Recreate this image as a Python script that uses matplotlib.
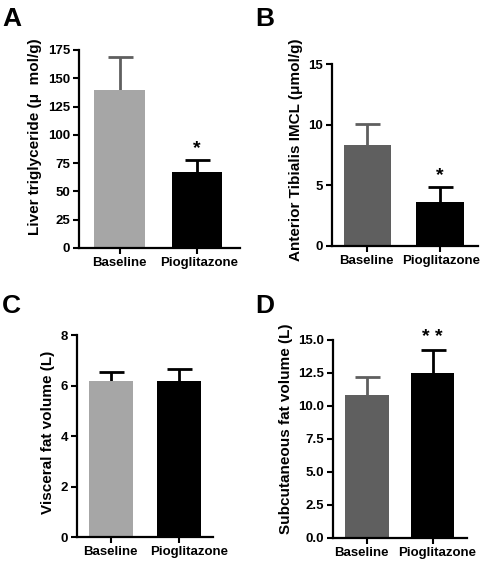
import matplotlib.pyplot as plt
import matplotlib.transforms as mtransforms
import numpy as np

plt.rcParams['font.family'] = ['Liberation Sans', 'DejaVu Sans']
plt.rcParams['font.weight'] = 'bold'

groups = ['Baseline', 'Pioglitazone']

liver_tg = [140, 67]
liver_tg_err = [29, 10.5]
ta_imcl = [8.35, 3.62]
ta_imcl_err = [1.7, 1.2]
visceral = [6.2, 6.2]
visceral_err = [0.35, 0.45]
subcut = [10.8, 12.5]
subcut_err = [1.35, 1.7]

W, H = 480, 564
fig = plt.figure(figsize=(W / 100, H / 100), dpi=100)


def px_axes(x0, x1, ytop, ybot):
    # axes from pixel coordinates (top-left origin)
    return fig.add_axes([x0 / W, 1 - ybot / H, (x1 - x0) / W, (ybot - ytop) / H])


def panel(ax, vals, errs, colors, ecolors, ylim, yticks, ylabel, xlim,
          ticklabels=None, label_shift=(0, 0), label_y=0.5):
    x = np.arange(len(vals))
    for xi, v, e, c, ec in zip(x, vals, errs, colors, ecolors):
        ax.bar(xi, v, width=0.66, color=c, zorder=2)
        # symmetric bar drawn under the column, so only the upper half shows
        ax.errorbar(xi, v, yerr=e, fmt='none', ecolor=ec,
                    elinewidth=2, capsize=9, capthick=2, zorder=1)
    ax.set_xlim(xlim)
    ax.set_ylim(ylim)
    ax.set_yticks(yticks)
    if ticklabels is not None:
        ax.set_yticklabels(ticklabels)
    ax.set_xticks(x)
    ax.set_xticklabels(groups)
    ax.set_ylabel(ylabel, fontsize=11, fontweight='bold', labelpad=4)
    ax.yaxis.label.set_y(label_y)
    for s in ['top', 'right']:
        ax.spines[s].set_visible(False)
    for s in ['left', 'bottom']:
        ax.spines[s].set_linewidth(1.6)
    ax.tick_params(width=1.5, length=4, labelsize=9.5, pad=2.5)
    for lab in ax.get_xticklabels() + ax.get_yticklabels():
        lab.set_fontweight('bold')
    for lab, dx in zip(ax.get_xticklabels(), label_shift):
        lab.set_transform(lab.get_transform() +
                          mtransforms.ScaledTranslation(dx / 100, 0, fig.dpi_scale_trans))


light, dark, black = '#a6a6a6', '#5f5f5f', '#000000'

# A
axA = px_axes(79, 240, 50, 248)
panel(axA, liver_tg, liver_tg_err, [light, black], [dark, black], (0, 175),
      np.arange(0, 176, 25), 'Liver triglyceride (\u03bc  mol/g)', (-0.53, 1.558),
      label_shift=(0, 2.5), label_y=0.56)
axA.text(1, liver_tg[1] + liver_tg_err[1] + 3, '*', ha='center', va='bottom', fontsize=14)

# B
axB = px_axes(332, 478, 64.3, 245.7)
panel(axB, ta_imcl, ta_imcl_err, [dark, black], [dark, black], (0, 15), [0, 5, 10, 15],
      'Anterior Tibialis IMCL (\u03bcmol/g)', (-0.49, 1.53), label_shift=(-1.5, 1.5),
      label_y=0.53)
axB.text(1, ta_imcl[1] + ta_imcl_err[1] + 0.3, '*', ha='center', va='bottom', fontsize=14)

# C
axC = px_axes(77, 213, 335.3, 537)
panel(axC, visceral, visceral_err, [light, black], [black, black], (0, 8), [0, 2, 4, 6, 8],
      'Visceral fat volume (L)', (-0.5, 1.5), label_shift=(-1, 10), label_y=0.52)

# D
axD = px_axes(333, 466.7, 339.7, 537.7)
dticks = np.arange(0, 15.1, 2.5)
panel(axD, subcut, subcut_err, [dark, black], [dark, black], (0, 15), dticks,
      'Subcutaneous fat volume (L)', (-0.515, 1.52),
      ticklabels=['%.1f' % t for t in dticks], label_shift=(-5, 5), label_y=0.55)
axD.text(1, subcut[1] + subcut_err[1] + 0.3, '* *', ha='center', va='bottom', fontsize=14)

# panel letters
for lab, x, y in [('A', 2, 7), ('B', 255, 7), ('C', 2, 294), ('D', 255, 294)]:
    fig.text(x / W, 1 - y / H, lab, fontsize=19, fontweight='bold', va='top', ha='left')

fig.savefig('out.png', dpi=100)
